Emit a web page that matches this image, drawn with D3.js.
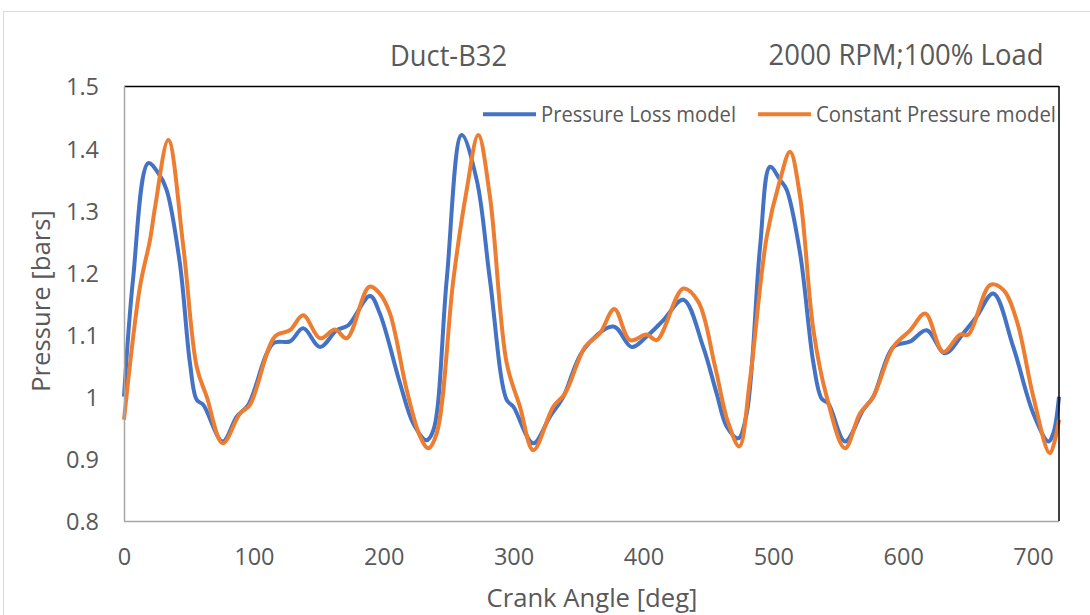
<!DOCTYPE html>
<html lang="en">
  <head>
    <meta charset="UTF-8">
    <title>Duct-B32 pressure</title>
    <style>
      body { margin: 0; background: #fff; }
      svg text { font-family: "Open Sans", sans-serif; fill: #595959; }
      .tick text { font-size: 23.5px; }
      .title { font-size: 30px; }
      .label { font-size: 26px; }
      .legend text { font-size: 21px; }
    </style>
    <script src="https://d3js.org/d3.v7.min.js"></script>
  </head>
  <body>
    <script>
      // values
      const lossAngle = [0, 7, 18.7, 26.4, 32.8, 43, 50.8, 56, 61, 76, 86.8, 95.7, 115, 127.8, 138, 151, 163.8, 172.7, 189.4, 197, 212.5, 222.8, 233, 238.2, 248.5, 260, 271.6, 281.8, 294.7, 299.8, 315.2, 328, 338.3, 353.7, 376.8, 391, 402.5, 415.3, 430.7, 446, 456.4, 464.1, 473, 479.5, 489.8, 497.5, 505.2, 510.3, 520.6, 530.9, 537.2, 542.4, 555.2, 569.3, 577, 592.4, 605.5, 618.1, 632.2, 646.3, 656.6, 669.4, 684.8, 700.2, 711.8, 715.6, 720];
      const lossPressure = [1.0, 1.19, 1.376, 1.36, 1.333, 1.215, 1.054, 0.995, 0.987, 0.928, 0.968, 0.987, 1.086, 1.089, 1.11, 1.08, 1.107, 1.115, 1.162, 1.134, 1.022, 0.957, 0.93, 0.946, 1.188, 1.421, 1.349, 1.188, 0.995, 0.984, 0.925, 0.968, 1.0, 1.075, 1.113, 1.08, 1.097, 1.123, 1.156, 1.08, 1.005, 0.952, 0.933, 0.973, 1.241, 1.37, 1.349, 1.333, 1.231, 1.054, 0.997, 0.989, 0.928, 0.979, 1.0, 1.08, 1.089, 1.107, 1.07, 1.102, 1.129, 1.166, 1.08, 0.973, 0.928, 0.941, 1.0];

      const constAngle = [0, 12.3, 20, 24, 34.1, 45.7, 56, 63.7, 76, 89.3, 97, 116.3, 127.8, 138, 151, 162.5, 171.5, 188.9, 197, 204.8, 217.7, 228, 234.3, 240.8, 253.6, 263.9, 272.8, 281.8, 294.7, 304.9, 315.2, 330.6, 339.6, 355, 366.5, 377.6, 389.7, 402.5, 410.2, 430.7, 442.2, 455, 465, 473.8, 482, 494.9, 505.2, 512.9, 520.6, 530.9, 541.1, 555.2, 566.7, 577, 592.4, 605.5, 617, 630.9, 643.8, 650.2, 667.1, 677.1, 687.4, 700.2, 713, 720];
      const constPressure = [0.963, 1.177, 1.252, 1.306, 1.413, 1.241, 1.048, 1.0, 0.925, 0.973, 0.987, 1.097, 1.107, 1.131, 1.094, 1.108, 1.094, 1.177, 1.166, 1.134, 1.011, 0.936, 0.917, 0.941, 1.188, 1.333, 1.421, 1.322, 1.054, 0.984, 0.914, 0.984, 1.005, 1.08, 1.102, 1.141, 1.091, 1.1, 1.091, 1.174, 1.153, 1.05, 0.96, 0.92, 1.027, 1.257, 1.349, 1.394, 1.322, 1.107, 1.0, 0.917, 0.973, 1.0, 1.08, 1.107, 1.134, 1.072, 1.1, 1.1, 1.18, 1.172, 1.123, 1.0, 0.909, 0.963];

      const xTicks = [0, 100, 200, 300, 400, 500, 600, 700];
      const yTicks = [0.8, 0.9, 1, 1.1, 1.2, 1.3, 1.4, 1.5];
      const seriesNames = ["Pressure Loss model", "Constant Pressure model"];
      const colors = ["#4472C4", "#ED7D31"];

      const width = 1090;
      const height = 615;
      const margin = { top: 86, right: 31, bottom: 94, left: 124 };
      const w = width - margin.left - margin.right;
      const h = height - margin.top - margin.bottom;

      const svg = d3.select("body").append("svg")
        .attr("width", width)
        .attr("height", height);

      // chart frame
      svg.append("rect")
        .attr("x", 3.5).attr("y", 11.5)
        .attr("width", 1200).attr("height", 800)
        .attr("fill", "none")
        .attr("stroke", "#d9d9d9");

      const g = svg.append("g")
        .attr("transform", `translate(${margin.left},${margin.top})`);

      const x = d3.scaleLinear().domain([0, 720]).range([0, w]);
      const y = d3.scaleLinear().domain([0.8, 1.5]).range([h, 0]);

      const yFmt = d => String(+d.toFixed(1));

      g.append("g")
        .attr("class", "axis-x")
        .attr("transform", `translate(0,${h})`)
        .call(d3.axisBottom(x).tickValues(xTicks).tickSize(0).tickPadding(27))
        .call(a => a.select(".domain").remove());

      g.append("g")
        .attr("class", "axis-y")
        .call(d3.axisLeft(y).tickValues(yTicks).tickFormat(yFmt).tickSize(0).tickPadding(25))
        .call(a => a.select(".domain").remove())
        .selectAll("text").attr("dy", "0.38em");

      g.append("line").attr("x1", 0).attr("x2", w).attr("y1", 0.5).attr("y2", 0.5)
        .attr("stroke", "#000").attr("stroke-width", 1.5);

      const line = d3.line()
        .x(d => x(d[0]))
        .y(d => y(d[1]))
        .curve(d3.curveCatmullRom.alpha(0.5));

      const series = [
        d3.zip(lossAngle, lossPressure),
        d3.zip(constAngle, constPressure)
      ];

      g.selectAll(".series")
        .data(series)
        .enter()
        .append("path")
        .attr("class", "series")
        .attr("fill", "none")
        .attr("stroke", (d, i) => colors[i])
        .attr("stroke-width", 4)
        .attr("stroke-linejoin", "round")
        .attr("d", line);

      // legend
      const legend = g.append("g").attr("class", "legend");
      const legendX = [359, 634];
      const legendLen = [195, 240];
      seriesNames.forEach((name, i) => {
        legend.append("line")
          .attr("x1", legendX[i]).attr("x2", legendX[i] + 53)
          .attr("y1", 28.3).attr("y2", 28.3)
          .attr("stroke", colors[i]).attr("stroke-width", 4);
        legend.append("text")
          .attr("x", legendX[i] + 58).attr("y", 35.7)
          .attr("textLength", legendLen[i])
          .attr("lengthAdjust", "spacingAndGlyphs")
          .text(name);
      });

      g.append("line").attr("x1", 0.5).attr("x2", 0.5).attr("y1", 0).attr("y2", h)
        .attr("stroke", "#a6a6a6").attr("stroke-width", 1.5);
      g.append("line").attr("x1", 0).attr("x2", w).attr("y1", h + 0.5).attr("y2", h + 0.5)
        .attr("stroke", "#a6a6a6").attr("stroke-width", 1.5);
      g.append("line").attr("x1", w).attr("x2", w).attr("y1", 0).attr("y2", h)
        .attr("stroke", "#000").attr("stroke-width", 1.5);

      // titles
      svg.append("text").attr("class", "title")
        .attr("text-anchor", "middle")
        .attr("x", 448.5).attr("y", 65.5)
        .attr("textLength", 117).attr("lengthAdjust", "spacingAndGlyphs")
        .text("Duct-B32");
      svg.append("text").attr("class", "title")
        .attr("text-anchor", "middle")
        .attr("x", 906).attr("y", 65)
        .attr("textLength", 275).attr("lengthAdjust", "spacingAndGlyphs")
        .text("2000 RPM;100% Load");

      svg.append("text").attr("class", "label")
        .attr("text-anchor", "middle")
        .attr("x", 592).attr("y", 607)
        .attr("textLength", 211).attr("lengthAdjust", "spacingAndGlyphs")
        .text("Crank Angle [deg]");
      svg.append("text").attr("class", "label")
        .attr("text-anchor", "middle")
        .attr("transform", "rotate(-90)")
        .attr("x", -301).attr("y", 50)
        .attr("textLength", 182).attr("lengthAdjust", "spacingAndGlyphs")
        .text("Pressure [bars]");
    </script>
  </body>
</html>
